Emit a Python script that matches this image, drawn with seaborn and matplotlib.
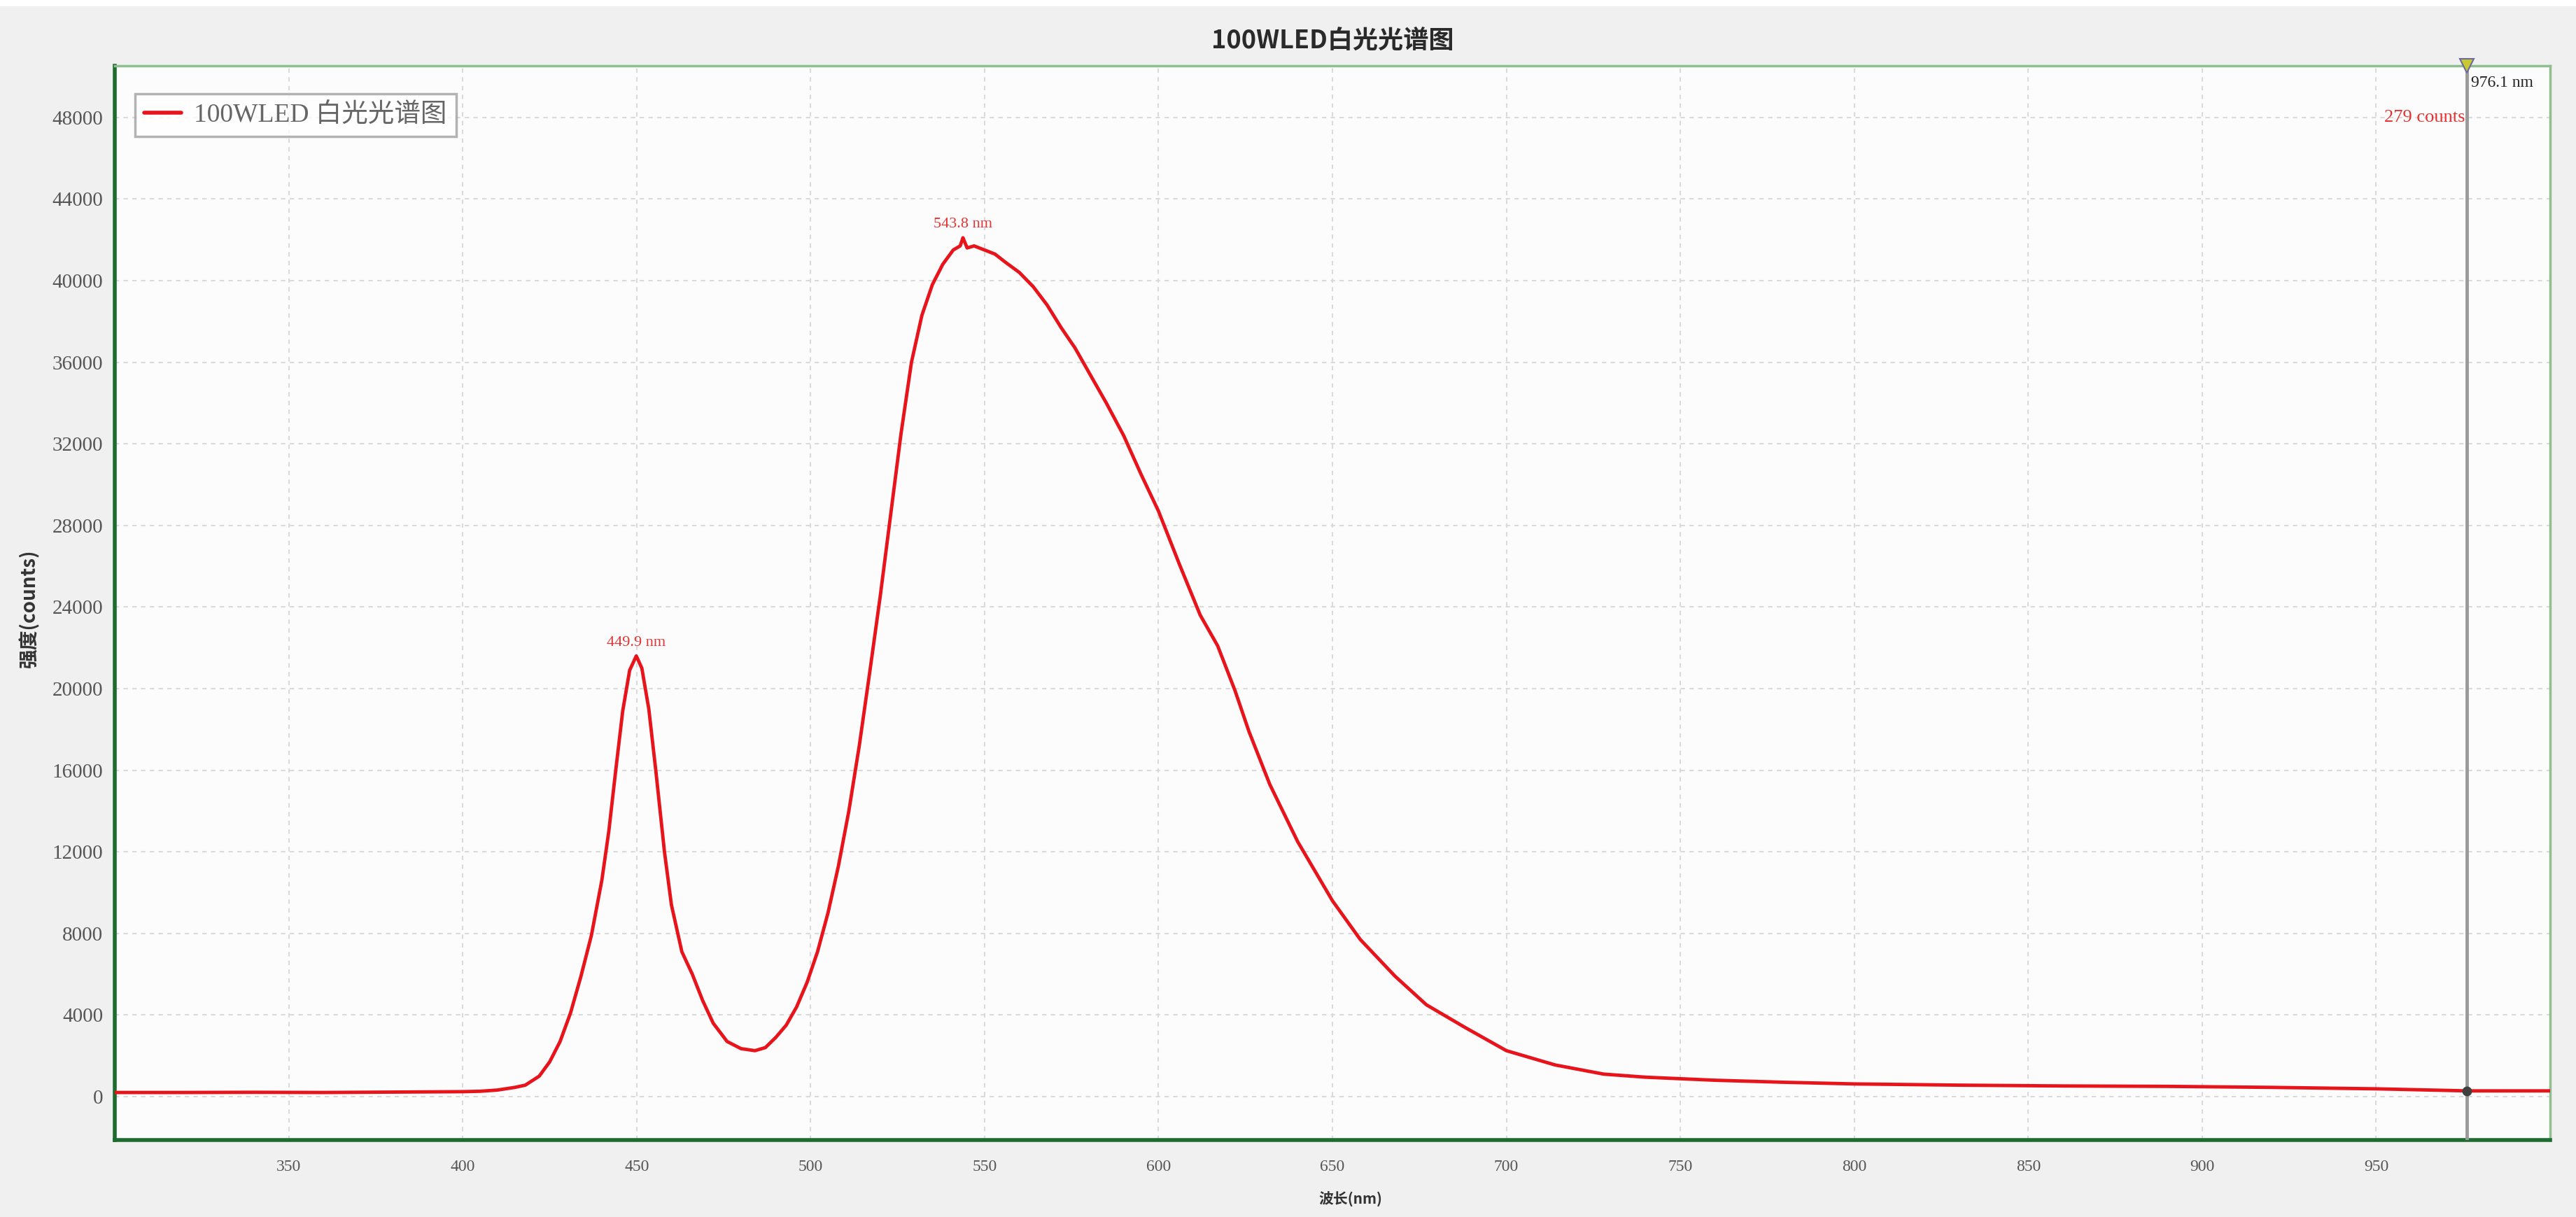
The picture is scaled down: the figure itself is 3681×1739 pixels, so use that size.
import matplotlib
matplotlib.use("Agg")
import matplotlib.pyplot as plt
from matplotlib.patches import Rectangle
from matplotlib.ticker import MultipleLocator
import seaborn as sns
import pandas as pd

# ---- data ----
wavelength_nm = [300, 320, 340, 360, 380, 400, 405, 410, 415, 418, 422, 425, 428, 431, 434,
                 437, 440, 442, 444, 446, 448, 449.9, 451.5, 453.5, 455.5, 458, 460, 463, 466,
                 469, 472, 476, 480, 484, 487, 490, 493, 496, 499, 502, 505, 508, 511, 514,
                 517, 520, 523, 526, 529, 532, 535, 538, 541, 543, 543.8, 545, 547, 550, 553, 556,
                 560, 564, 568, 572, 576, 580, 585, 590, 595, 600, 606, 612, 617, 622, 626,
                 632, 640, 650, 658, 668, 677, 688, 700, 714, 728, 740, 760, 780, 800, 830,
                 860, 890, 920, 950, 976.1, 1000]
intensity_counts = [200, 200, 210, 200, 220, 240, 260, 320, 450, 560, 1000, 1700, 2700, 4100, 5900,
                    7900, 10600, 13000, 16000, 18900, 20900, 21600, 21000, 19000, 16000, 12000, 9400, 7100, 6000,
                    4700, 3600, 2700, 2350, 2250, 2400, 2900, 3500, 4400, 5600, 7100, 9000, 11300, 14000, 17200,
                    20800, 24500, 28500, 32500, 36000, 38300, 39800, 40800, 41500, 41700, 42100, 41600, 41700, 41500, 41300, 40900,
                    40400, 39700, 38800, 37700, 36700, 35500, 34000, 32400, 30500, 28700, 26100, 23600, 22100, 19900, 17900,
                    15300, 12500, 9600, 7700, 5900, 4500, 3400, 2250, 1550, 1100, 950, 800, 700, 620, 560,
                    520, 500, 450, 380, 279, 280]
series_name = "100WLED 白光光谱图"
title_text = "100WLED白光光谱图"
x_label = "波长(nm)"
y_label = "强度(counts)"
peak_labels = [(449.9, 21600, "449.9 nm"), (543.8, 42100, "543.8 nm")]
cursor_nm = 976.1
cursor_counts = 279

df = pd.DataFrame({"wavelength": wavelength_nm, "intensity": intensity_counts, "series": series_name})

sns.set_style("white")
plt.rcParams["font.family"] = ["Liberation Serif", "Noto Sans CJK SC", "DejaVu Sans"]

W, H = 3681, 1739
fig = plt.figure(figsize=(W / 100, H / 100), dpi=100, facecolor="#f0f0f0")
fig.patches.append(Rectangle((0, 1 - 9 / H), 1, 9 / H, transform=fig.transFigure,
                             facecolor="white", edgecolor="none", zorder=0))
ax = fig.add_axes([164 / W, (H - 1629) / H, (3644 - 164) / W, (1629 - 94) / H])
ax.set_facecolor("#fcfcfc")

red = "#e8141c"
sns.lineplot(data=df, x="wavelength", y="intensity", hue="series", palette=[red],
             linewidth=3.5, ax=ax, sort=False, zorder=3)

ax.set_xlim(300, 1000)
ax.set_ylim(-2130, 50530)
ax.xaxis.set_major_locator(MultipleLocator(50))
ax.xaxis.set_minor_locator(MultipleLocator(10))
ax.yaxis.set_major_locator(MultipleLocator(4000))
ax.yaxis.set_minor_locator(MultipleLocator(400))
xt = [v for v in range(350, 1000, 50)]
ax.set_xticks(xt)
ax.set_xticklabels([str(v) for v in xt])
yt = list(range(0, 48001, 4000))
ax.set_yticks(yt)
ax.set_yticklabels([str(v) for v in yt])

ax.grid(True, which="major", color="#dadada", linestyle=(0, (3, 3)), linewidth=1.5, zorder=0)

dk = "#1e6b30"
lt = "#8fbf8f"
for s in ["left", "bottom"]:
    ax.spines[s].set_color(dk)
    ax.spines[s].set_linewidth(4)
for s in ["top", "right"]:
    ax.spines[s].set_color(lt)
    ax.spines[s].set_linewidth(2.5)

ax.tick_params(axis="both", which="major", direction="in", length=14, width=2.5, color=dk,
               labelcolor="#555555")
ax.tick_params(axis="both", which="minor", direction="in", length=7, width=2, color=dk)
ax.tick_params(axis="y", which="both", right=False, pad=12, labelsize=21)
ax.tick_params(axis="x", which="both", top=False, pad=20, labelsize=17)
ax.set_xlabel("")
ax.set_ylabel("")

# legend
leg = ax.legend(loc="upper left", bbox_to_anchor=(0.0083, 0.974), borderaxespad=0,
                frameon=True, fancybox=False, edgecolor="#a0a0a0", facecolor="white",
                fontsize=27, labelcolor="#666666", handlelength=1.4, borderpad=0.35,
                handletextpad=0.5, title=None)
leg.get_frame().set_linewidth(2.5)
for h in leg.get_lines():
    h.set_linewidth(4)

# title and axis labels
fig.text(1904 / W, 1 - 58 / H, title_text, ha="center", va="center", fontsize=26,
         color="#2a2a2a", fontweight="bold", family=["Noto Sans CJK SC", "DejaVu Sans"])
fig.text(1930 / W, 1 - 1714 / H, x_label, ha="center", va="center", fontsize=15,
         color="#333333", fontweight="bold", family=["Noto Sans CJK SC", "DejaVu Sans"])
fig.text(42 / W, 1 - 870 / H, y_label, ha="center", va="center", fontsize=20, rotation=90,
         color="#333333", fontweight="bold", family=["Noto Sans CJK SC", "DejaVu Sans"])

# peak labels
for px, py, txt in peak_labels:
    ax.text(px, py + 650, txt, ha="center", va="center", fontsize=16, color="#e83030", zorder=4)

# cursor
ax.axvline(cursor_nm, color="#9a9a9a", linewidth=3.5, zorder=4)
ax.plot([cursor_nm], [50530], marker="v", markersize=14, color="#c8c830",
        markeredgecolor="#6a6aa0", markeredgewidth=1.5, clip_on=False, zorder=6)
ax.plot([cursor_nm], [cursor_counts], marker="o", markersize=9, color="#404040", zorder=5)
ax.text(cursor_nm + 1.2, 49700, f"{cursor_nm} nm", ha="left", va="center", fontsize=17,
        color="#222222", zorder=5)
ax.text(cursor_nm - 0.5, 48000, f"{cursor_counts} counts", ha="right", va="center", fontsize=19,
        color="#e83030", zorder=5)

fig.savefig("out.png", dpi=100, facecolor=fig.get_facecolor())
